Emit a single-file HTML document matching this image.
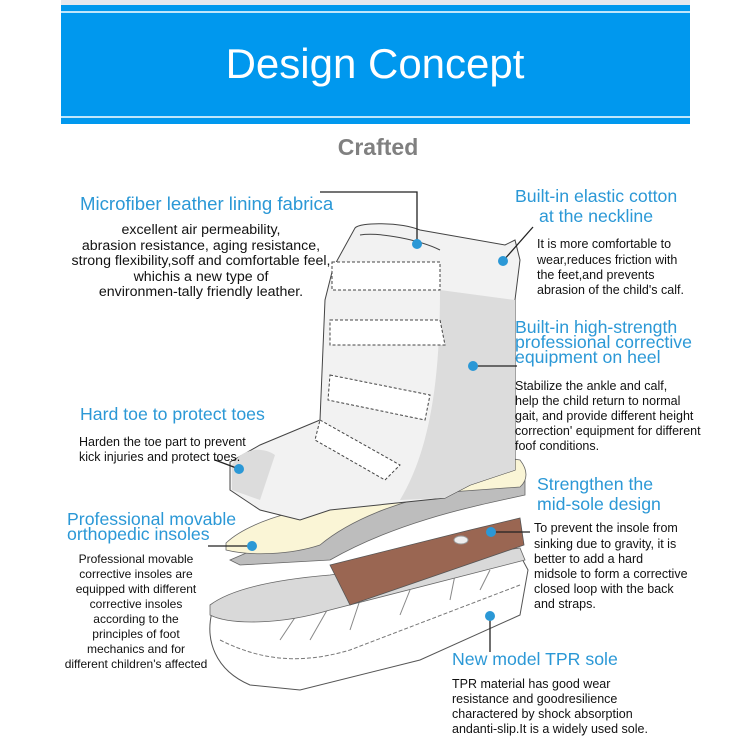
<!DOCTYPE html>
<html><head><meta charset="utf-8"><style>
html,body{margin:0;padding:0;background:#fff;}
svg{display:block;}
text{font-family:"Liberation Sans",sans-serif;}
.b{fill:#2b98d6;font-size:17.7px;}
.k{fill:#111;font-size:12.5px;}
</style></head><body>
<svg width="750" height="750" viewBox="0 0 750 750" xmlns="http://www.w3.org/2000/svg">
<rect x="61" y="0" width="629" height="5" fill="#e6e8ee"/>
<rect x="61" y="5" width="629" height="119" fill="#0098ee"/>
<rect x="61" y="11" width="629" height="2" fill="#bfe6fb"/>
<rect x="61" y="116" width="629" height="2" fill="#bfe6fb"/>
<text x="375" y="78" text-anchor="middle" fill="#fff" font-size="42">Design Concept</text>
<text x="378" y="155" text-anchor="middle" fill="#808080" font-size="23" font-weight="bold">Crafted</text>

<!-- outsole -->
<path d="M212,612 C205,640 215,670 250,685 L300,690 L420,660 L520,615 L528,570 L520,555 L300,595 Z" fill="#fff" stroke="#555" stroke-width="1"/>
<path d="M220,640 C260,660 300,665 350,650 L520,585" fill="none" stroke="#777" stroke-dasharray="4,2"/>
<path d="M280,640 L300,610 M310,640 L330,605 M350,630 L360,600 M400,615 L410,590 M450,600 L455,575 M480,590 L490,570" stroke="#888" fill="none"/>
<path d="M210,605 C230,590 270,580 330,575 L520,548 L525,560 L330,610 C280,625 230,625 210,615 Z" fill="#d9d9d9" stroke="#666" stroke-width="0.8"/>
<!-- brown midsole -->
<path d="M330,565 L470,530 L520,518 L524,545 L350,605 L345,595 Z" fill="#9a6652" stroke="#555" stroke-width="0.8"/>
<ellipse cx="461" cy="540" rx="7" ry="4" fill="#eee" stroke="#999"/>
<!-- midsole gray -->
<path d="M230,560 C300,530 380,500 450,490 L525,480 L525,495 C480,505 400,520 330,560 L240,565 Z" fill="#bdbdbd" stroke="#666" stroke-width="0.8"/>
<!-- insole -->
<path d="M226,543 C250,520 300,510 340,500 C380,470 420,452 470,452 L520,460 C528,470 528,480 520,487 L450,492 C400,500 350,520 320,545 C290,555 250,556 226,550 Z" fill="#faf5d6" stroke="#666" stroke-width="0.8"/>
<!-- boot -->
<path d="M355,228 C360,222 400,222 420,230 L505,245 L515,240 L520,260 L515,300 L515,470 L470,485 L445,498 L330,510 L300,520 L260,510 L230,490 L230,462 L260,445 L320,420 L325,300 L333,268 Z" fill="#f2f2f2" stroke="#444" stroke-width="1"/>
<path d="M440,290 L515,300 L515,470 L470,485 L445,498 L400,500 C430,450 440,380 440,290 Z" fill="#dcdcdc"/>
<path d="M232,465 C240,450 260,445 275,455 L260,500 L232,490 Z" fill="#dcdcdc"/>
<path d="M332,262 L440,262 L440,290 L332,290 Z M330,320 L440,320 L445,345 L330,345 Z M330,375 L430,395 L425,420 L328,400 Z M320,420 L400,465 L385,480 L315,440 Z" fill="#fff" stroke="#444" stroke-dasharray="3,2"/>
<path d="M360,235 C380,232 420,240 440,250" fill="none" stroke="#444"/>

<!-- leaders -->
<g stroke="#222" stroke-width="1.3" fill="none">
<polyline points="320,192 417,192 417,240"/>
<line x1="503" y1="261" x2="533" y2="227"/>
<line x1="473" y1="366" x2="517" y2="366"/>
<line x1="215" y1="460" x2="239" y2="469"/>
<line x1="208" y1="546" x2="250" y2="546"/>
<line x1="491" y1="532" x2="530" y2="532"/>
<line x1="490" y1="616" x2="490" y2="652"/>
</g>
<g fill="#2b98d6">
<circle cx="417" cy="244" r="5"/><circle cx="503" cy="261" r="5"/><circle cx="473" cy="366" r="5"/>
<circle cx="239" cy="469" r="5"/><circle cx="252" cy="546" r="5"/><circle cx="491" cy="532" r="5"/><circle cx="490" cy="616" r="5"/>
</g>

<text class="b" x="80" y="210" style="font-size:18.6px">Microfiber leather lining fabrica</text>
<g class="k" text-anchor="middle" style="font-size:14.2px">
<text x="201" y="234">excellent air permeability,</text>
<text x="201" y="250">abrasion resistance, aging resistance,</text>
<text x="201" y="265">strong flexibility,soff and comfortable feel,</text>
<text x="201" y="281">whichis a new type of</text>
<text x="201" y="296">environmen-tally friendly leather.</text>
</g>
<text class="b" x="80" y="420">Hard toe to protect toes</text>
<text class="k" x="79" y="446">Harden the toe part to prevent</text>
<text class="k" x="79" y="461">kick injuries and protect toes.</text>
<text class="b" x="67" y="525">Professional movable</text>
<text class="b" x="67" y="540">orthopedic insoles</text>
<g class="k" text-anchor="middle" style="font-size:12px">
<text x="136" y="563">Professional movable</text>
<text x="136" y="578">corrective insoles are</text>
<text x="136" y="593">equipped with different</text>
<text x="136" y="608">corrective insoles</text>
<text x="136" y="623">according to the</text>
<text x="136" y="638">principles of foot</text>
<text x="136" y="653">mechanics and for</text>
<text x="136" y="668">different children's affected</text>
</g>

<text class="b" x="515" y="202">Built-in elastic cotton</text>
<text class="b" x="539" y="222">at the neckline</text>
<text class="k" x="537" y="248">It is more comfortable to</text>
<text class="k" x="537" y="264">wear,reduces friction with</text>
<text class="k" x="537" y="279">the feet,and prevents</text>
<text class="k" x="537" y="294">abrasion of the child's calf.</text>
<text class="b" x="515" y="333">Built-in high-strength</text>
<text class="b" x="515" y="348">professional corrective</text>
<text class="b" x="515" y="363">equipment on heel</text>
<text class="k" x="515" y="390">Stabilize the ankle and calf,</text>
<text class="k" x="515" y="405">help the child return to normal</text>
<text class="k" x="515" y="420">gait, and provide different height</text>
<text class="k" x="515" y="435">correction' equipment for different</text>
<text class="k" x="515" y="450">foof conditions.</text>
<text class="b" x="537" y="490">Strengthen the</text>
<text class="b" x="537" y="510">mid-sole design</text>
<text class="k" x="534" y="532">To prevent the insole from</text>
<text class="k" x="534" y="548">sinking due to gravity, it is</text>
<text class="k" x="534" y="563">better to add a hard</text>
<text class="k" x="534" y="578">midsole to form a corrective</text>
<text class="k" x="534" y="593">closed loop with the back</text>
<text class="k" x="534" y="608">and straps.</text>
<text class="b" x="452" y="665">New model TPR sole</text>
<text class="k" x="452" y="688">TPR material has good wear</text>
<text class="k" x="452" y="703">resistance and goodresilience</text>
<text class="k" x="452" y="718">charactered by shock absorption</text>
<text class="k" x="452" y="733">andanti-slip.It is a widely used sole.</text>
</svg>
</body></html>
